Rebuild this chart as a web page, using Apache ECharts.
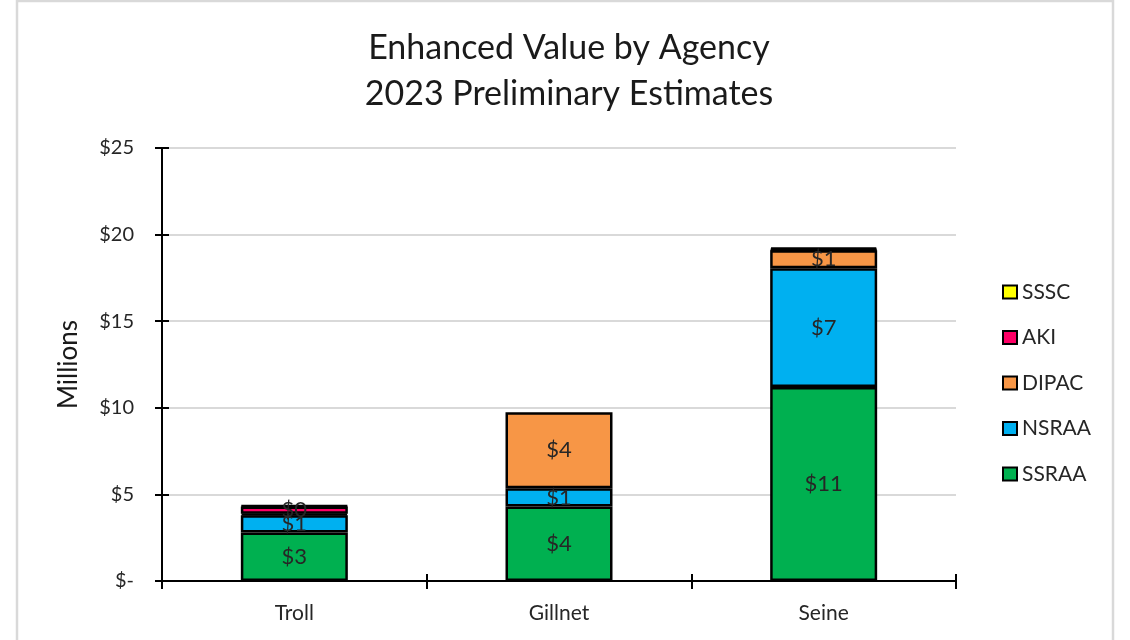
<!DOCTYPE html>
<html>
<head>
<meta charset="utf-8">
<script src="https://cdn.jsdelivr.net/npm/echarts@6/dist/echarts.min.js"></script>
<style>
html,body{margin:0;padding:0;background:#fff;}
#c{width:1130px;height:640px;}
</style>
</head>
<body>
<div id="c"></div>
<script>
const categories = ['Troll', 'Gillnet', 'Seine'];
const SSRAA = [2.8, 4.3, 11.2];
const NSRAA = [1.0, 1.05, 6.85];
const DIPAC = [0.08, 4.4, 1.05];
const AKI = [0.42, null, 0.05];
const SSSC = [0.05, null, 0.1];
const yTicks = { min: 0, max: 25, interval: 5 };

const FONT = 'Lato';
const seriesDefs = [
  { name: 'SSRAA', data: SSRAA, color: '#00B050' },
  { name: 'NSRAA', data: NSRAA, color: '#00B0F0' },
  { name: 'DIPAC', data: DIPAC, color: '#F79646' },
  { name: 'AKI', data: AKI, color: '#FF0066' },
  { name: 'SSSC', data: SSSC, color: '#FFFF00' }
];

const chart = echarts.init(document.getElementById('c'), null, { renderer: 'canvas' });
const grid = { left: 162, right: 174, top: 148, bottom: 59 };

chart.setOption({
  animation: false,
  backgroundColor: '#fff',
  graphic: [{
    type: 'rect', silent: true,
    shape: { x: 17, y: 1, width: 1096, height: 700 },
    style: { fill: 'none', stroke: '#d9d9d9', lineWidth: 2.5 }
  }],
  title: {
    text: 'Enhanced Value by Agency\n2023 Preliminary Estimates',
    left: 564, top: 20, textAlign: 'center',
    textStyle: { fontFamily: FONT, fontSize: 34, fontWeight: 'normal', color: '#1a1a1a', lineHeight: 46 }
  },
  legend: {
    orient: 'vertical', left: 997, top: 275, itemGap: 21.5,
    itemWidth: 14, itemHeight: 13,
    icon: 'rect',
    data: ['SSSC', 'AKI', 'DIPAC', 'NSRAA', 'SSRAA'],
    textStyle: { fontFamily: FONT, fontSize: 21, color: '#262626', padding: [0, 0, 0, 0], lineHeight: 24 },
    itemStyle: { borderColor: '#000', borderWidth: 2 }
  },
  grid: grid,
  xAxis: [{
    type: 'category', data: categories, position: 'bottom',
    axisLine: { lineStyle: { color: '#000', width: 2 } },
    axisTick: { show: true, length: 8, lineStyle: { color: '#000', width: 2 } },
    axisLabel: { fontFamily: FONT, fontSize: 21, color: '#262626', margin: 22 }
  }, {
    type: 'category', data: categories, position: 'bottom', offset: 0,
    axisLine: { show: false },
    axisTick: { show: true, inside: true, length: 7, lineStyle: { color: '#000', width: 2 } },
    axisLabel: { show: false }
  }],
  yAxis: [{
    type: 'value', min: yTicks.min, max: yTicks.max, interval: yTicks.interval,
    name: 'Millions', nameLocation: 'middle', nameGap: 80, nameRotate: 90,
    nameTextStyle: { fontFamily: FONT, fontSize: 26, color: '#1a1a1a' },
    axisLine: { show: true, lineStyle: { color: '#000', width: 2 } },
    axisTick: { show: true, length: 7, lineStyle: { color: '#000', width: 2 } },
    axisLabel: {
      fontFamily: FONT, fontSize: 20, color: '#262626', margin: 28,
      formatter: v => v === 0 ? '$-' : '$' + v
    },
    splitLine: { show: true, lineStyle: { color: '#d9d9d9', width: 2 } }
  }, {
    type: 'value', min: yTicks.min, max: yTicks.max, interval: yTicks.interval, position: 'left',
    axisLine: { show: false },
    axisTick: { show: true, inside: true, length: 7, lineStyle: { color: '#000', width: 2 } },
    axisLabel: { show: false },
    splitLine: { show: false }
  }],
  series: seriesDefs.map(s => ({
    name: s.name, type: 'bar', stack: 'total', data: s.data,
    barWidth: 107,
    itemStyle: { color: s.color, borderColor: '#000', borderWidth: 2.5 },
    label: {
      show: true, position: 'inside',
      fontFamily: FONT, fontSize: 22, color: '#262626',
      formatter: p => (p.value == null || p.value < 0.2) ? '' : '$' + Math.round(p.value)
    }
  }))
});
</script>
</body>
</html>
